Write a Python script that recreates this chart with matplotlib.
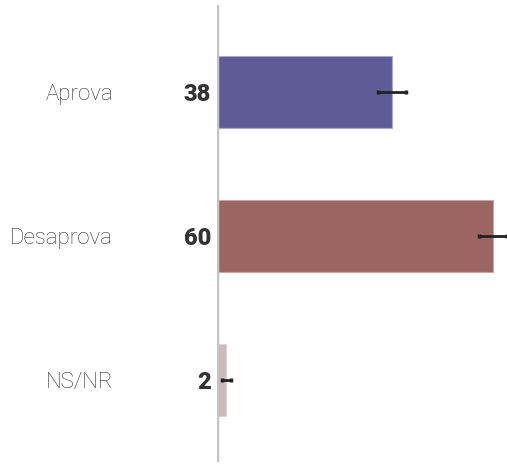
import matplotlib
matplotlib.use("Agg")
import matplotlib.pyplot as plt

plt.rcParams["font.family"] = ["Roboto", "DejaVu Sans"]

categories = ["Aprova", "Desaprova", "NS/NR"]
values = [38, 60, 2]
errors = [3, 3, 1]
colors = ["#5f5b96", "#9b6661", "#c9bcbb"]
edge_colors = ["#a9a6c8", "#c9a5a1", "#ddd3d2"]

W, H = 507, 465
fig = plt.figure(figsize=(W / 100, H / 100), dpi=100)
ax = fig.add_axes([217 / W, (H - 462) / H, (W - 217) / W, 457 / H])

pos = list(range(len(categories)))
ax.barh(pos, values, height=0.5, color=colors, edgecolor=edge_colors,
        linewidth=0.8, zorder=2)
ax.errorbar(values, pos, xerr=errors, fmt="none", ecolor="#222222",
            elinewidth=2, capsize=1.5, capthick=2.5, zorder=3, clip_on=False)

ax.set_xlim(0, 63)
ax.set_ylim(2.569, -0.604)
ax.axvline(0, color="#c4c4c4", linewidth=2.5, zorder=4)

for i, (cat, v) in enumerate(zip(categories, values)):
    ax.annotate(cat, xy=(0, i), xytext=(-104 * 0.72, -1.5),
                textcoords="offset points", ha="right", va="center",
                fontsize=16, fontweight="light", color="#333333",
                annotation_clip=False)
    ax.annotate(str(v), xy=(0, i), xytext=(-6 * 0.72, -1.5),
                textcoords="offset points", ha="right", va="center",
                fontsize=17, fontweight="heavy", color="#333333",
                annotation_clip=False)

ax.axis("off")
fig.savefig("out.png", dpi=100)
